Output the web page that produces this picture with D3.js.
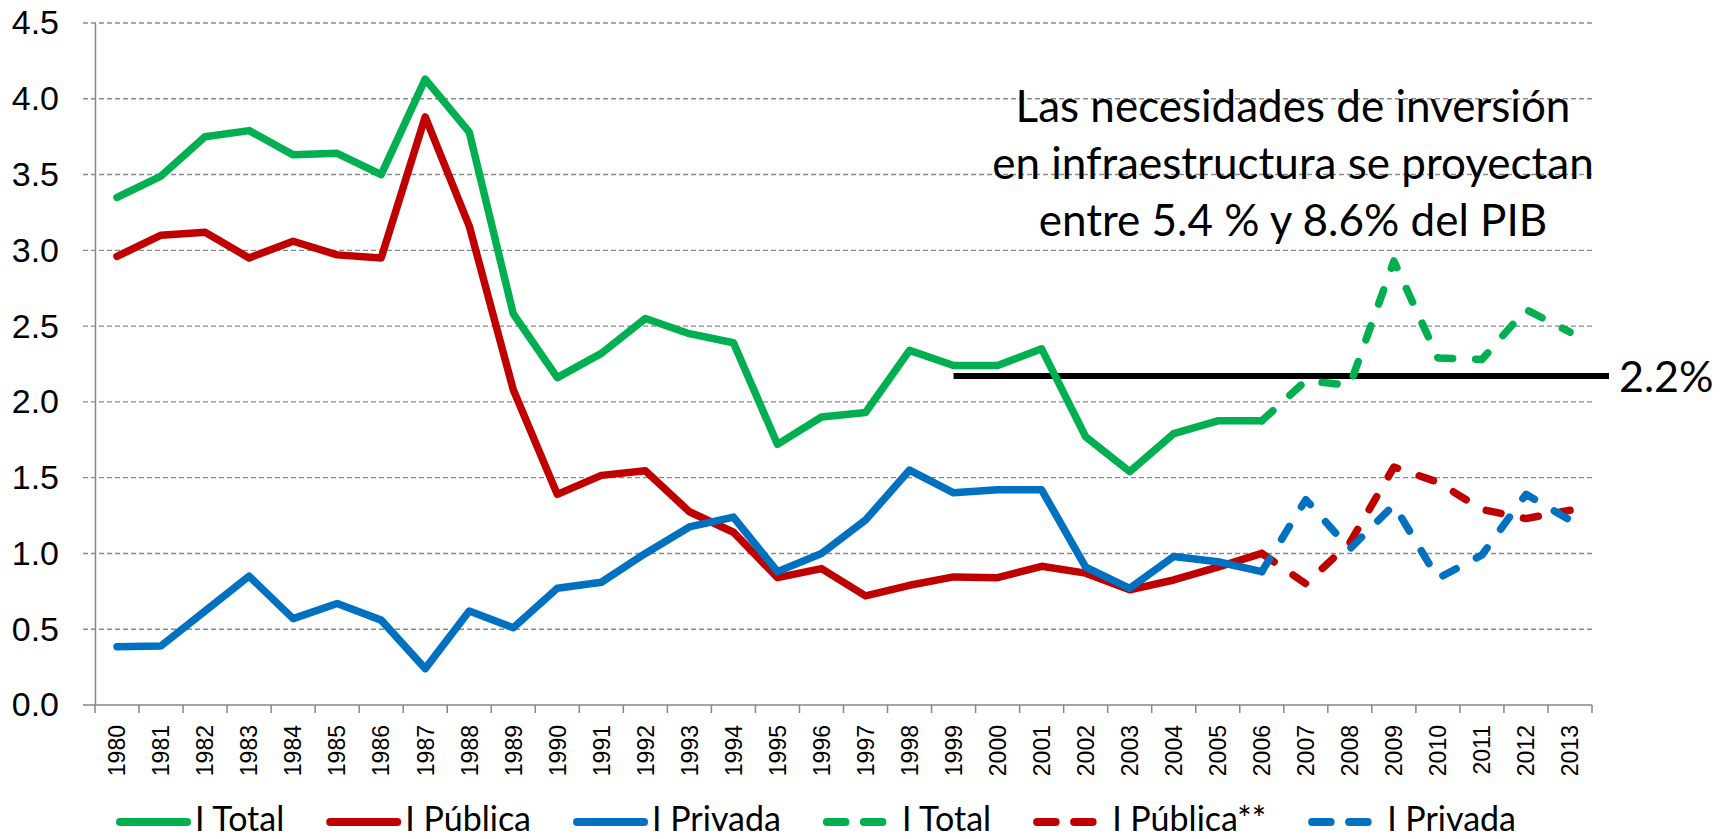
<!DOCTYPE html>
<html lang="es">
<head>
<meta charset="utf-8">
<script src="https://d3js.org/d3.v7.min.js"></script>
<style>
body { margin: 0; background: #fff; }
svg { font-family: Lato, "Open Sans", sans-serif; }
.grid line { stroke: #8a8a8a; stroke-width: 1.4; stroke-dasharray: 5,3; }
.serie { fill: none; stroke-width: 7.5; stroke-linecap: round; stroke-linejoin: round; }
.proy { stroke-dasharray: 15,23; }
</style>
</head>
<body>
<script>
// categorias
var years = ["1980","1981","1982","1983","1984","1985","1986","1987","1988","1989",
             "1990","1991","1992","1993","1994","1995","1996","1997","1998","1999",
             "2000","2001","2002","2003","2004","2005","2006","2007","2008","2009",
             "2010","2011","2012","2013"];

// historico 1980-2006 (% del PIB)
var histYears = years.slice(0, 27);
var totalHist   = [3.35,3.49,3.75,3.79,3.63,3.64,3.50,4.13,3.78,2.58,2.16,2.32,2.55,2.45,2.39,1.72,1.90,1.93,2.34,2.24,2.24,2.35,1.77,1.54,1.79,1.875,1.875];
var publicaHist = [2.96,3.10,3.12,2.95,3.06,2.97,2.95,3.88,3.16,2.08,1.39,1.515,1.545,1.275,1.14,0.84,0.90,0.72,0.79,0.845,0.84,0.915,0.87,0.76,0.825,0.91,1.00];
var privadaHist = [0.385,0.39,0.62,0.85,0.57,0.67,0.56,0.24,0.62,0.51,0.77,0.81,1.00,1.175,1.24,0.88,1.00,1.22,1.55,1.40,1.42,1.42,0.91,0.77,0.98,0.945,0.88];

// proyectado 2006-2013
var proyYears = years.slice(26);
var totalProy   = [1.875,2.14,2.11,2.93,2.29,2.28,2.61,2.46];
var publicaProy = [1.00,0.80,1.07,1.57,1.47,1.29,1.23,1.285];
var privadaProy = [0.88,1.355,1.03,1.32,0.835,0.99,1.39,1.22];

var yTicks = [0,0.5,1,1.5,2,2.5,3,3.5,4,4.5];

var refValue = 2.17, refFrom = "1999", refLabel = "2.2%";
var nota = ["Las necesidades de inversión",
            "en infraestructura se proyectan",
            "entre 5.4 % y 8.6% del PIB"];

var legendItems = [
  {name: "I Total",      color: "#00B050", dashed: false},
  {name: "I Pública",    color: "#C00000", dashed: false},
  {name: "I Privada",    color: "#0070C0", dashed: false},
  {name: "I Total",      color: "#00B050", dashed: true},
  {name: "I Pública**",  color: "#C00000", dashed: true},
  {name: "I Privada",    color: "#0070C0", dashed: true}
];

var width = 1725, height = 839;
var margin = {top: 23, right: 133, bottom: 134, left: 95};

var svg = d3.select("body").append("svg")
    .attr("width", width)
    .attr("height", height);

var x = d3.scaleBand()
    .domain(years)
    .range([margin.left, width - margin.right]);

var y = d3.scaleLinear()
    .domain([0, 4.5])
    .range([height - margin.bottom, margin.top]);

var cx = function(d) { return x(d) + x.bandwidth() / 2; };
var x0 = margin.left - 12, x1 = width - margin.right;

// gridlines
svg.append("g").attr("class", "grid")
  .selectAll("line")
  .data(yTicks.filter(function(d) { return d > 0; }))
  .enter().append("line")
    .attr("x1", x0).attr("x2", x1)
    .attr("y1", function(d) { return y(d); })
    .attr("y2", function(d) { return y(d); });

// eje y
var yAxis = svg.append("g")
    .attr("transform", "translate(" + margin.left + ",0)")
    .call(d3.axisLeft(y).tickValues(yTicks).tickFormat(d3.format(".1f")).tickSize(0).tickPadding(36));
yAxis.select(".domain").attr("stroke", "#868686").attr("stroke-width", 1.5);
yAxis.selectAll("text").style("font-size", "34px").attr("fill", "#000");

// eje x
var xAxis = svg.append("g")
    .attr("transform", "translate(0," + y(0) + ")")
    .call(d3.axisBottom(x).tickSize(0));
xAxis.select(".domain").remove();
xAxis.selectAll("text")
    .attr("transform", "rotate(-90)")
    .attr("x", -20).attr("y", 0).attr("dy", "0.36em")
    .style("text-anchor", "end")
    .style("font-size", "23px")
    .attr("fill", "#000");
xAxis.append("line")
    .attr("x1", x0).attr("x2", x1)
    .attr("stroke", "#868686").attr("stroke-width", 1.5);
xAxis.selectAll(".tb")
    .data(years.concat(["end"]))
    .enter().append("line")
    .attr("x1", function(d) { return d === "end" ? x1 : x(d); })
    .attr("x2", function(d) { return d === "end" ? x1 : x(d); })
    .attr("y1", 0).attr("y2", 8)
    .attr("stroke", "#868686").attr("stroke-width", 1.5);

// linea de referencia
svg.append("line")
    .attr("x1", cx(refFrom)).attr("x2", x1 + 17)
    .attr("y1", y(refValue)).attr("y2", y(refValue))
    .attr("stroke", "#000").attr("stroke-width", 6);
svg.append("text")
    .attr("x", x1 + 27).attr("y", y(refValue))
    .attr("dy", "0.36em")
    .style("font-size", "43px")
    .text(refLabel);

// series
var line = d3.line()
    .x(function(d) { return cx(d[0]); })
    .y(function(d) { return y(d[1]); });

function drawSerie(yrs, vals, color, dashed) {
  svg.append("path")
    .datum(d3.zip(yrs, vals))
    .attr("class", dashed ? "serie proy" : "serie")
    .attr("stroke", color)
    .attr("d", line);
}
drawSerie(histYears, totalHist, "#00B050", false);
drawSerie(histYears, publicaHist, "#C00000", false);
drawSerie(histYears, privadaHist, "#0070C0", false);
drawSerie(proyYears, totalProy, "#00B050", true);
drawSerie(proyYears, publicaProy, "#C00000", true);
drawSerie(proyYears, privadaProy, "#0070C0", true);

// nota
svg.append("text")
    .attr("x", 1293).attr("y", 122)
    .attr("text-anchor", "middle")
    .style("font-size", "44px")
    .selectAll("tspan")
    .data(nota)
    .enter().append("tspan")
    .attr("x", 1293)
    .attr("dy", function(d, i) { return i === 0 ? 0 : 57; })
    .text(function(d) { return d; });

// leyenda
var lx = 116, ly = 822;
var legend = svg.append("g");
legendItems.forEach(function(it) {
  var g = legend.append("g").attr("transform", "translate(" + lx + "," + ly + ")");
  g.append("line")
    .attr("x1", 4).attr("x2", 71)
    .attr("stroke", it.color).attr("stroke-width", 8)
    .attr("stroke-linecap", "round")
    .attr("stroke-dasharray", it.dashed ? "18.5,18.5" : null);
  var t = g.append("text")
    .attr("x", 79).attr("y", 9)
    .style("font-size", "34px")
    .text(it.name);
  lx += 79 + t.node().getComputedTextLength() + 42;
});
</script>
</body>
</html>
